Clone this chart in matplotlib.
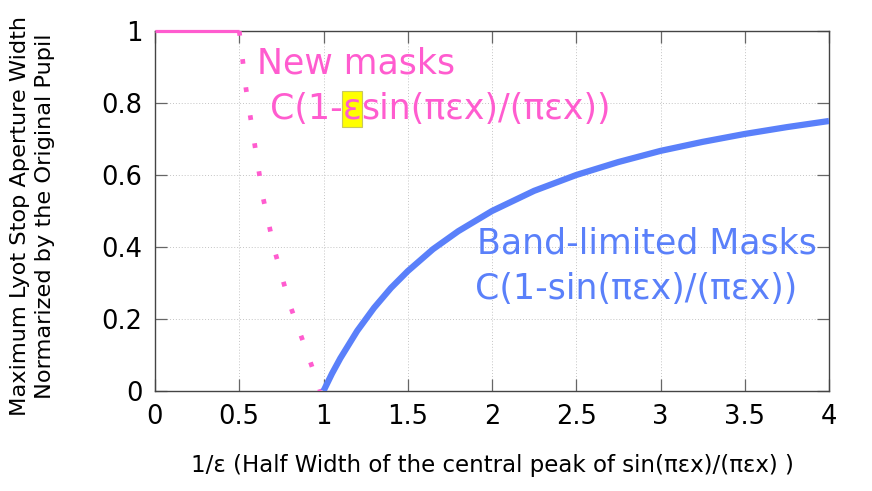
import matplotlib

matplotlib.use("Agg")

import matplotlib.pyplot as plt  # noqa: E402

# --- data ---
new_flat_x = [0.0, 0.5]
new_flat_y = [1.0, 1.0]

new_drop_x = [0.5, 0.54, 0.59, 0.64, 0.71, 0.80, 0.90, 0.96, 0.98]
new_drop_y = [1.0, 0.84, 0.69, 0.54, 0.39, 0.24, 0.11, 0.03, 0.0]

band_x = [1.0, 1.05, 1.1, 1.2, 1.3, 1.4, 1.5, 1.65, 1.8, 2.0,
          2.25, 2.5, 2.75, 3.0, 3.25, 3.5, 3.75, 4.0]
band_y = [0.0, 0.048, 0.091, 0.167, 0.231, 0.286, 0.333, 0.394, 0.444, 0.5,
          0.556, 0.6, 0.636, 0.667, 0.692, 0.714, 0.733, 0.75]

x_ticks = [0, 0.5, 1, 1.5, 2, 2.5, 3, 3.5, 4]
x_tick_labels = ["0", "0.5", "1", "1.5", "2", "2.5", "3", "3.5", "4"]
y_ticks = [0, 0.2, 0.4, 0.6, 0.8, 1.0]
y_tick_labels = ["0", "0.2", "0.4", "0.6", "0.8", "1"]

PINK = "#ff5ccf"
BLUE = "#5a80fa"

plt.rcParams["font.family"] = ["DejaVu Sans"]

fig = plt.figure(figsize=(8.72, 4.91), dpi=100)
ax = fig.add_axes((155 / 872, 1 - 391 / 491, 674 / 872, 360 / 491))

ax.plot(new_flat_x, new_flat_y, color=PINK, lw=2.3, clip_on=False,
        zorder=5, solid_capstyle="butt")
ax.plot(new_drop_x, new_drop_y, color=PINK, lw=3.4, ls=(0, (1, 5.0)),
        dash_capstyle="butt", zorder=4)
ax.plot(band_x, band_y, color=BLUE, lw=4.5, solid_capstyle="butt", zorder=4)

ax.set_xlim(0, 4)
ax.set_ylim(0, 1)
ax.set_xticks(x_ticks, x_tick_labels)
ax.set_yticks(y_ticks, y_tick_labels)
ax.tick_params(direction="in", length=8.6, width=0.9, color="#666666",
               labelsize=18.5, top=True, right=True, pad=9)
ax.grid(True, ls=(0, (1, 2)), lw=0.7, color="#c4c4c4")
for s in ax.spines.values():
    s.set_color("#444444")
    s.set_linewidth(1.0)

ax.set_xlabel("1/\u03b5 (Half Width of the central peak of sin(\u03c0\u03b5x)/(\u03c0\u03b5x) )",
              fontsize=16.5)
ax.xaxis.set_label_coords(0.5, -0.175)
ax.set_ylabel("Maximum Lyot Stop Aperture Width\nNormarized by the Original Pupil",
              fontsize=16.2, linespacing=1.3)
ax.yaxis.set_label_coords(-0.148, 0.486)

# annotations
fs = 25
ax.text(0.605, 0.883, "New masks", color=PINK, fontsize=fs, va="baseline")
t1 = ax.text(0.683, 0.756, "C(1-", color=PINK, fontsize=fs, va="baseline")
t2 = ax.annotate("\u03b5", xy=(1, 0), xycoords=t1, va="bottom", ha="left",
                 color=PINK, fontsize=fs,
                 bbox=dict(boxstyle="square,pad=0.02", fc="#ffff00",
                           ec="#c8c860", lw=0.8))
ax.annotate("sin(\u03c0\u03b5x)/(\u03c0\u03b5x))", xy=(1, 0), xycoords=t2,
            va="bottom", ha="left", color=PINK, fontsize=fs)

ax.text(1.911, 0.383, "Band-limited Masks", color=BLUE, fontsize=fs, va="baseline")
ax.text(1.899, 0.256, "C(1-sin(\u03c0\u03b5x)/(\u03c0\u03b5x))", color=BLUE,
        fontsize=fs, va="baseline")

fig.savefig("out.png", dpi=100)
